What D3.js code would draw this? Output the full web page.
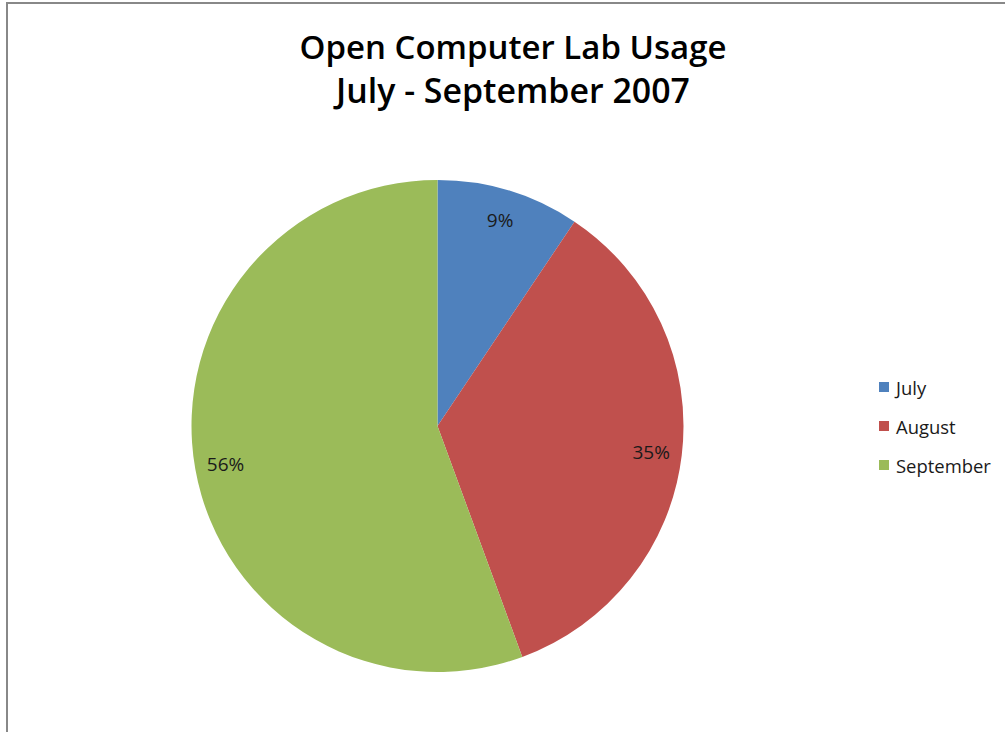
<!DOCTYPE html>
<html><head><meta charset="utf-8">
<script src="https://cdn.jsdelivr.net/npm/d3@7/dist/d3.min.js"></script>
<style>html,body{margin:0;padding:0;background:#fff;}svg{display:block;}</style>
</head><body>
<svg id="c" width="1005" height="732"></svg>
<script>
const categories = ["July", "August", "September"];
const values = [9.4, 35.0, 55.6];
const pctLabels = ["9%", "35%", "56%"];
const colors = ["#4F81BD", "#C0504D", "#9BBB59"];
const titleLines = ["Open Computer Lab Usage", "July - September 2007"];

const svg = d3.select("#c");
const font = "'Open Sans', Lato, sans-serif";

// chart area border
svg.append("rect").attr("x", 7).attr("y", 3).attr("width", 1005).attr("height", 740)
  .attr("fill", "#fff").attr("stroke", "#888").attr("stroke-width", 2);

// title
const titleTargets = [{w: 427, y: 59}, {w: 354, y: 103}];
titleLines.forEach((t, i) => {
  const el = svg.append("text").attr("x", 513).attr("y", titleTargets[i].y)
    .attr("text-anchor", "middle").attr("font-family", font).attr("font-weight", 600)
    .attr("font-size", 32).attr("fill", "#000").text(t);
  const w = el.node().getComputedTextLength();
  el.attr("font-size", 32 * titleTargets[i].w / w);
});

const cx = 437.5, cy = 426, r = 246;
const pie = d3.pie().sort(null).value(d => d)(values);
const arc = d3.arc().innerRadius(0).outerRadius(r);
const labelArc = d3.arc().innerRadius(r * 0.875).outerRadius(r * 0.875);
const g = svg.append("g").attr("transform", `translate(${cx},${cy})`);
g.selectAll("path").data(pie).join("path")
  .attr("d", arc).attr("fill", (d, i) => colors[i]);
g.selectAll("text").data(pie).join("text")
  .attr("transform", d => `translate(${labelArc.centroid(d)})`)
  .attr("text-anchor", "middle").attr("dominant-baseline", "central")
  .attr("font-family", font).attr("font-size", 19).attr("fill", "#1a1a1a")
  .text((d, i) => pctLabels[i]);

// legend
const lg = svg.append("g");
let legendSize = 16;
categories.forEach((c, i) => {
  const y = 387 + i * 39;
  lg.append("rect").attr("x", 879).attr("y", y - 5).attr("width", 10).attr("height", 10).attr("fill", colors[i]);
  lg.append("text").attr("class", "lt").attr("x", 896).attr("y", y).attr("dominant-baseline", "central")
    .attr("font-family", font).attr("font-size", legendSize).attr("fill", "#1a1a1a").text(c);
});
const lastW = lg.selectAll(".lt").nodes()[2].getComputedTextLength();
lg.selectAll(".lt").attr("font-size", legendSize * 95 / lastW);
</script>
</body></html>
